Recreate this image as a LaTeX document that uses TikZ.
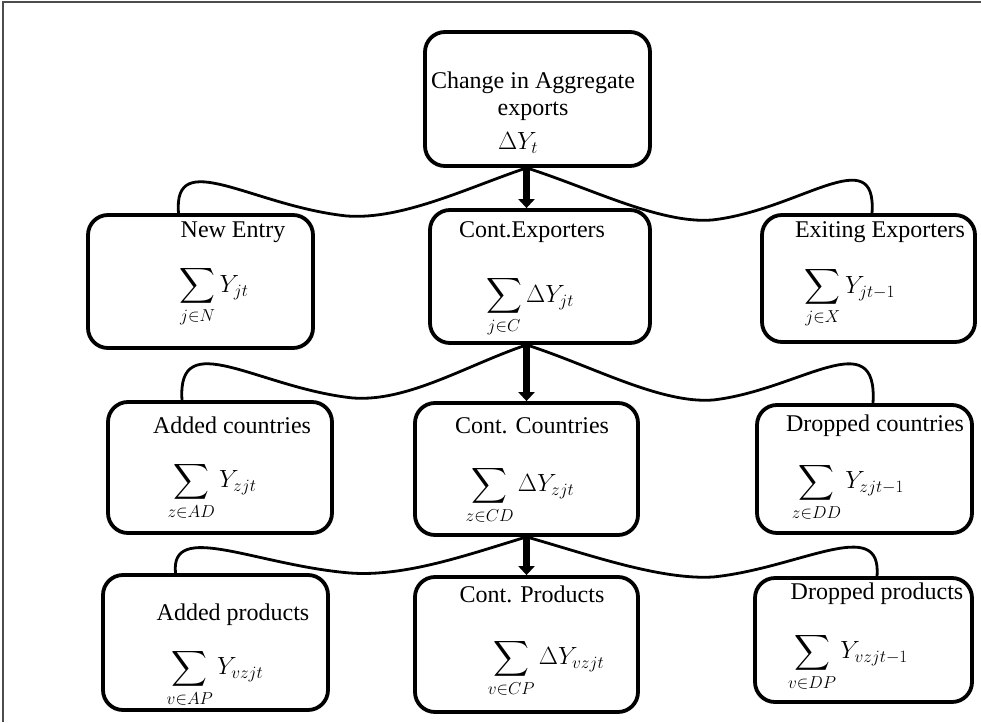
\documentclass[tikz,border=0pt]{standalone}
\usepackage{amsmath}
\usepackage{fontspec}
\setmainfont{Liberation Serif}
\usetikzlibrary{arrows.meta,calc}

\begin{document}
\begin{tikzpicture}[x=1pt,y=-1pt,
    box/.style={draw, rounded corners=20pt, line width=3.8pt},
    title/.style={font=\fontsize{24}{27}\selectfont, align=center, inner sep=0pt},
    formula/.style={font=\fontsize{23}{26}\selectfont, inner sep=0pt},
    branch/.style={line width=2.8pt},
    trunk/.style={line width=6.5pt, -{Triangle[width=16pt,length=9pt]}}]
    \useasboundingbox (0,0) rectangle (981,722);
    \draw[line width=2pt, black!70] (3,722) -- (3,2) -- (981,2);

    % boxes
    \node[box, minimum width=225pt, minimum height=134pt] (top) at (537.5,99) {};
    \node[box, minimum width=225pt, minimum height=133pt] (new) at (200.5,281.5) {};
    \node[box, minimum width=220pt, minimum height=133pt] (cexp) at (540,276.5) {};
    \node[box, minimum width=213pt, minimum height=127pt] (exit) at (868.5,278.5) {};
    \node[box, minimum width=224pt, minimum height=131pt] (addc) at (220,467.5) {};
    \node[box, minimum width=223pt, minimum height=132pt] (ccou) at (526.5,469) {};
    \node[box, minimum width=215pt, minimum height=128pt] (dropc) at (864.5,469) {};
    \node[box, minimum width=225pt, minimum height=135pt] (addp) at (215.5,642.5) {};
    \node[box, minimum width=223pt, minimum height=135pt] (cprod) at (526.5,644.5) {};
    \node[box, minimum width=217pt, minimum height=124pt] (dropp) at (863.5,640) {};

    % texts
    \node[title] (toptitle) at (533,96) {Change in Aggregate\\exports};
    \node[formula] (topsum) at (518,143) {$\Delta Y_t$};
    \node[title] (newtitle) at (233,232) {New Entry};
    \node[formula] (newsum) at (214,297) {$\displaystyle\sum_{j\in N} Y_{jt}$};
    \node[title] (cexptitle) at (532,232) {Cont.Exporters};
    \node[formula] (cexpsum) at (530,307) {$\displaystyle\sum_{j\in C} \Delta Y_{jt}$};
    \node[title] (exittitle) at (880,232) {Exiting Exporters};
    \node[formula] (exitsum) at (850,298) {$\displaystyle\sum_{j\in X} Y_{jt-1}$};
    \node[title] (addctitle) at (232,425) {Added countries};
    \node[formula] (addcsum) at (212,491) {$\displaystyle\sum_{z\in AD} Y_{zjt}$};
    \node[title] (ccoutitle) at (532,426) {Cont. Countries};
    \node[formula] (ccousum) at (520,495) {$\displaystyle\sum_{z\in CD} \Delta Y_{zjt}$};
    \node[title] (dropctitle) at (875,426) {Dropped countries};
    \node[formula] (dropcsum) at (848,492) {$\displaystyle\sum_{z\in DD} Y_{zjt-1}$};
    \node[title] (addptitle) at (233,615) {Added products};
    \node[formula] (addpsum) at (215,678) {$\displaystyle\sum_{v\in AP} Y_{vzjt}$};
    \node[title] (cprodtitle) at (532,594) {Cont. Products};
    \node[formula] (cprodsum) at (546,668) {$\displaystyle\sum_{v\in CP} \Delta Y_{vzjt}$};
    \node[title] (dropptitle) at (877,594) {Dropped products};
    \node[formula] (droppsum) at (848,662) {$\displaystyle\sum_{v\in DP} Y_{vzjt-1}$};

    % forks
    \coordinate (fork1) at (top.south -| ccou.north);
    \coordinate (fork2) at (cexp.south -| ccou.north);
    \coordinate (fork3) at (ccou.south);

    \draw[trunk] (fork1) -- (cexp.north -| ccou.north);
    \draw[trunk] (fork2) -- (ccou.north);
    \draw[trunk] (fork3) -- (cprod.north);

    \draw[branch] (fork1) .. controls (467,188) and (402,220) .. (347,216)
        .. controls (252,206) and (173,146) .. ([xshift=-22pt]new.north);
    \draw[branch] (fork1) .. controls (590,188) and (660,224) .. (712,220)
        .. controls (800,210) and (877,140) .. ([xshift=3.5pt]exit.north);
    \draw[branch] (fork2) .. controls (467,365) and (408,402) .. (353,398)
        .. controls (258,388) and (177,325) .. ([xshift=-38pt]addc.north);
    \draw[branch] (fork2) .. controls (590,365) and (660,404) .. (713,400)
        .. controls (800,390) and (878,322) .. ([xshift=8.5pt]dropc.north);
    \draw[branch] (fork3) .. controls (467,555) and (405,577) .. (350,573)
        .. controls (255,565) and (170,520) .. ([xshift=-40pt]addp.north);
    \draw[branch] (fork3) .. controls (590,555) and (660,580) .. (713,577)
        .. controls (800,568) and (882,515) .. ([xshift=13.5pt]dropp.north);
\end{tikzpicture}
\end{document}
